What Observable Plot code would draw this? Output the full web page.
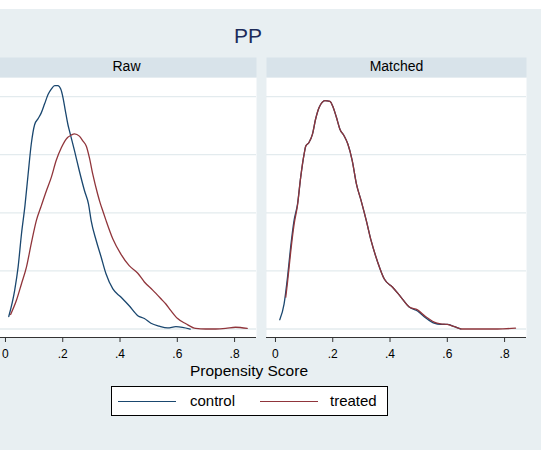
<!DOCTYPE html>
<html>
<head>
<meta charset="utf-8">
<script src="https://cdn.jsdelivr.net/npm/d3@7"></script>
<script src="https://cdn.jsdelivr.net/npm/@observablehq/plot@0.6"></script>
<style>
  html, body { margin: 0; padding: 0; background: #ffffff; }
  body { width: 541px; height: 450px; position: relative; overflow: hidden; font-family: "Liberation Sans", Arial, sans-serif; }
  #bg { position: absolute; left: 0; top: 9px; width: 541px; height: 441px; background: #e8eff2; }
  #title { position: absolute; left: 0; width: 496px; top: 25px; text-align: center; font-size: 21px; line-height: 21px; color: #1c2b5a; }
  #chart { position: absolute; left: -5px; top: 57px; }
  #xlabel { position: absolute; left: 0; width: 498px; top: 363px; text-align: center; font-size: 15.5px; line-height: 16px; color: #000; }
  #legend { position: absolute; left: 111px; top: 386px; width: 275px; height: 28px; border: 1px solid #000; background: #fff; }
  .sw { position: absolute; top: 14px; height: 0; border-top: 1.4px solid; }
  .lt { position: absolute; top: 6px; font-size: 15px; line-height: 15px; color: #000; }
</style>
</head>
<body>
<div id="bg"></div>
<div id="title">PP</div>
<div id="chart"></div>
<div id="xlabel">Propensity Score</div>
<div id="legend"></div>
<script>
// ---- data ----
const panels = ["Raw", "Matched"];
const series = ["control", "treated"];
const seriesColors = ["#1a476f", "#90353b"];
const xTicks = [0, 0.2, 0.4, 0.6, 0.8];
const yGrid = [0, 1, 2, 3, 4];

const rawControlX = [0.0115,0.032,0.044,0.056,0.068,0.079,0.090,0.102,0.114,0.125,0.137,0.149,0.160,0.172,0.183,0.193,0.201,0.209,0.218,0.225,0.241,0.258,0.276,0.290,0.299,0.317,0.334,0.351,0.375,0.403,0.432,0.462,0.485,0.508,0.537,0.566,0.595,0.618,0.645];
const rawControlY = [0.215,0.66,1.06,1.64,2.12,2.66,3.18,3.52,3.62,3.72,3.88,4.04,4.13,4.19,4.19,4.13,3.98,3.76,3.52,3.38,3.07,2.72,2.38,2.15,1.87,1.52,1.24,0.95,0.69,0.55,0.40,0.23,0.18,0.10,0.05,0.02,0.04,0.03,0.0];

const rawTreatedX = [0.018,0.038,0.056,0.073,0.090,0.108,0.125,0.143,0.160,0.177,0.195,0.212,0.230,0.241,0.258,0.270,0.282,0.293,0.305,0.322,0.330,0.340,0.351,0.375,0.403,0.432,0.462,0.485,0.514,0.543,0.560,0.577,0.601,0.630,0.664,0.699,0.734,0.769,0.803,0.844];
const rawTreatedY = [0.25,0.49,0.78,1.06,1.47,1.87,2.12,2.38,2.61,2.90,3.12,3.27,3.34,3.36,3.32,3.24,3.15,2.95,2.66,2.32,2.18,2.03,1.87,1.55,1.29,1.09,0.96,0.81,0.67,0.52,0.43,0.32,0.18,0.09,0.01,0.0,0.0,0.01,0.03,0.01];

const matchedControlX = [0.015,0.030,0.042,0.053,0.065,0.077,0.088,0.100,0.106,0.117,0.129,0.140,0.152,0.163,0.172,0.190,0.202,0.213,0.225,0.239,0.253,0.268,0.283,0.299,0.317,0.334,0.357,0.380,0.409,0.438,0.467,0.496,0.525,0.554,0.577,0.600,0.625,0.647];
const matchedControlY = [0.16,0.43,0.89,1.41,1.87,2.15,2.61,3.01,3.15,3.21,3.35,3.61,3.81,3.90,3.93,3.92,3.81,3.64,3.44,3.33,3.18,2.90,2.49,2.21,1.87,1.52,1.15,0.86,0.72,0.55,0.38,0.31,0.19,0.10,0.08,0.08,0.04,0.0];

const matchedTreatedX = [0.036,0.042,0.053,0.065,0.077,0.088,0.100,0.106,0.117,0.129,0.140,0.152,0.163,0.172,0.190,0.202,0.213,0.225,0.239,0.253,0.268,0.283,0.299,0.317,0.334,0.357,0.380,0.409,0.438,0.467,0.496,0.525,0.554,0.577,0.600,0.625,0.650,0.700,0.775,0.838];
const matchedTreatedY = [0.55,0.80,1.32,1.80,2.13,2.61,3.01,3.15,3.21,3.35,3.61,3.81,3.90,3.93,3.92,3.81,3.64,3.44,3.33,3.18,2.90,2.49,2.21,1.87,1.52,1.15,0.86,0.72,0.55,0.38,0.33,0.21,0.12,0.09,0.08,0.04,0.0,0.0,0.0,0.015];

// ---- build table ----
function rows(panel, s, xs, ys) { return xs.map((x, i) => ({panel, series: s, x, y: ys[i]})); }
const data = [
  ...rows("Raw", "control", rawControlX, rawControlY),
  ...rows("Raw", "treated", rawTreatedX, rawTreatedY),
  ...rows("Matched", "control", matchedControlX, matchedControlY),
  ...rows("Matched", "treated", matchedTreatedX, matchedTreatedY)
];

const xDomain = [-0.0313, 0.8765];
const yDomain = [-0.146, 4.329];
const fmt = d => d === 0 ? "0" : String(d).replace(/^0\./, ".");

const chart = Plot.plot({
  width: 532,
  height: 310,
  marginTop: 20,
  marginBottom: 30,
  marginLeft: 0,
  marginRight: 0,
  style: {background: "transparent", fontFamily: "'Liberation Sans', Arial, sans-serif", fontSize: "12px", color: "#000"},
  fx: {domain: panels, paddingInner: 0.0369, paddingOuter: 0, axis: null, label: null},
  x: {domain: xDomain, label: null},
  y: {domain: yDomain, axis: null},
  color: {domain: series, range: seriesColors},
  marks: [
    Plot.frame({fill: "#ffffff", stroke: null}),
    Plot.frame({fill: "#d8e3ea", stroke: null, insetTop: -20, insetBottom: 260}),
    Plot.text(panels, {fx: d => d, text: d => d, frameAnchor: "top", lineAnchor: "bottom", dy: -6.5, fontSize: 14, fill: "#000"}),
    Plot.ruleY(yGrid, {stroke: "#e3ebee", strokeWidth: 1.3}),
    Plot.ruleY([yDomain[0]], {stroke: "#333", strokeWidth: 1}),
    Plot.axisX({ticks: xTicks, tickFormat: fmt, tickSize: 5, tickPadding: 7, stroke: "#333", label: null, fontSize: 12}),
    Plot.line(data, {fx: "panel", x: "x", y: "y", z: "series", stroke: "series", strokeWidth: 1.3, curve: "monotone-x"})
  ]
});
document.getElementById("chart").appendChild(chart);

// ---- legend ----
const legend = document.getElementById("legend");
const legendPos = [{line: 6, text: 78}, {line: 148, text: 218}];
series.forEach((s, i) => {
  const sw = document.createElement("div");
  sw.className = "sw";
  sw.style.left = legendPos[i].line + "px";
  sw.style.width = "58px";
  sw.style.borderTopColor = seriesColors[i];
  legend.appendChild(sw);
  const t = document.createElement("div");
  t.className = "lt";
  t.style.left = legendPos[i].text + "px";
  t.textContent = s;
  legend.appendChild(t);
});
</script>
</body>
</html>
